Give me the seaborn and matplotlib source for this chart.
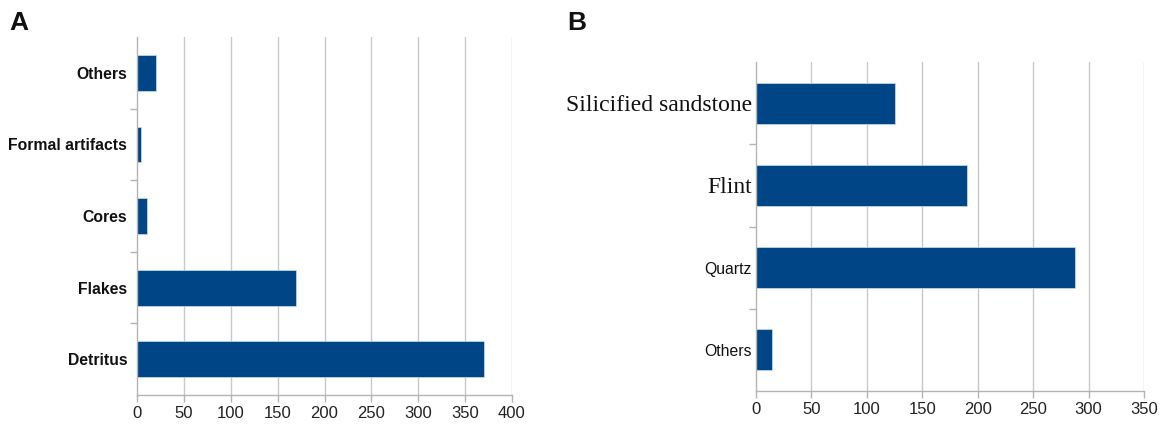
import matplotlib
matplotlib.use("Agg")
import matplotlib.pyplot as plt
import seaborn as sns
import pandas as pd
import numpy as np

# Data
cat_a = ["Others", "Formal artifacts", "Cores", "Flakes", "Detritus"]
val_a = [20, 4, 11, 170, 370]
cat_b = ["Silicified sandstone", "Flint", "Quartz", "Others"]
val_b = [125, 190, 288, 14]
xticks_a = [0, 50, 100, 150, 200, 250, 300, 350, 400]
xticks_b = [0, 50, 100, 150, 200, 250, 300, 350]

sns.set_theme(style="white")
plt.rcParams['font.family'] = ['Liberation Sans', 'DejaVu Sans']

BAR = "#004586"
GRID = "#c8c8c8"
SPINE = "#b3b3b3"

fig = plt.figure(figsize=(11.61, 4.25), dpi=100)
ax_a = fig.add_axes([137/1161, 30/425, (512-137)/1161, (395-37)/425])
ax_b = fig.add_axes([756/1161, 34/425, (1144-756)/1161, (391-62)/425])

def style(ax, cats, vals, xt, pad):
    df = pd.DataFrame({"cat": cats, "val": vals})
    sns.barplot(data=df, x="val", y="cat", orient="h", color=BAR, width=0.5,
                saturation=1, ax=ax, edgecolor="#c9dff0", linewidth=0.5)
    ax.set_xlim(xt[0], xt[-1])
    ax.set_xticks(xt)
    ax.set_xlabel("")
    ax.set_ylabel("")
    ax.set_ylim(len(cats) - 0.5, -0.5)
    for x in xt[1:]:
        ax.axvline(x, color=GRID, lw=1.0, zorder=0)
    for s in ["top", "right"]:
        ax.spines[s].set_visible(False)
    for s in ["left", "bottom"]:
        ax.spines[s].set_color(SPINE)
        ax.spines[s].set_linewidth(1.0)
    ax.tick_params(axis="y", which="major", length=0, pad=pad)
    ax.set_yticks(np.arange(len(cats) - 1) + 0.5, minor=True)
    ax.tick_params(axis="y", which="minor", length=5, color=SPINE, width=1, left=True)
    ax.tick_params(axis="x", which="major", length=5, color=SPINE, width=1,
                   bottom=True, labelsize=12, labelcolor="#222222", pad=3)
    ax.set_axisbelow(True)

style(ax_a, cat_a, val_a, xticks_a, 7)
for lbl in ax_a.get_yticklabels():
    lbl.set_fontweight("bold")
    lbl.set_fontsize(11.3)
    lbl.set_color("#111111")

style(ax_b, cat_b, val_b, xticks_b, 3)
b_fonts = {
    "Silicified sandstone": dict(family="Liberation Serif", size=17),
    "Flint": dict(family="Liberation Serif", size=17),
    "Quartz": dict(family="Liberation Sans", size=11.3),
    "Others": dict(family="Liberation Sans", size=11.3),
}
for lbl in ax_b.get_yticklabels():
    f = b_fonts[lbl.get_text()]
    lbl.set_fontfamily(f["family"])
    lbl.set_fontsize(f["size"])
    lbl.set_color("#111111")

fig.text(9/1161, 1 - 30/425, "A", fontsize=19, fontweight="bold", ha="left", va="baseline", color="#111111")
fig.text(567/1161, 1 - 30/425, "B", fontsize=19, fontweight="bold", ha="left", va="baseline", color="#111111")

fig.savefig("out.png", dpi=100, facecolor="white")
